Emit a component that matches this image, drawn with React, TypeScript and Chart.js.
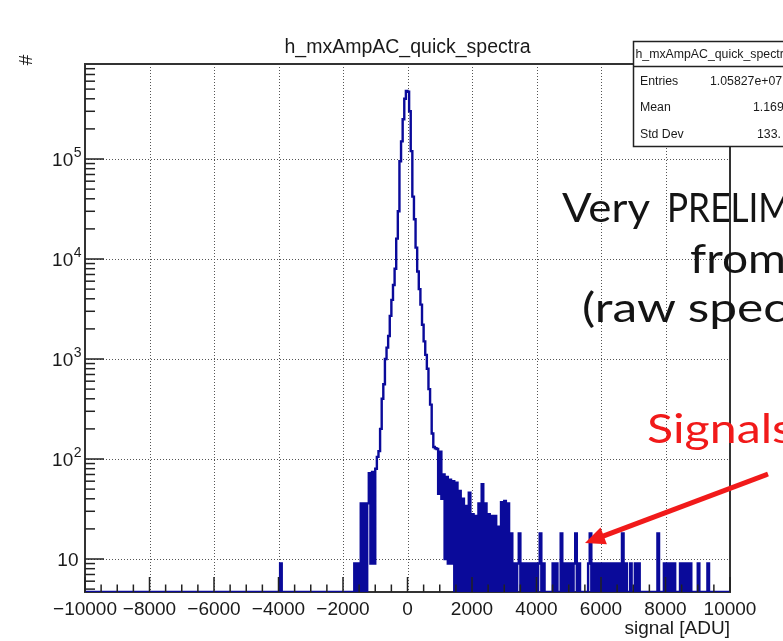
import React, { useEffect, useRef } from "react";
import { Chart, registerables } from "chart.js";

Chart.register(...registerables);

// ---------- data ----------
const X_RANGE = [-10000, 10000];
const Y_RANGE = [4.677, 891250];
const BIN_WIDTH = 50;

// isolated bins far left (left edge, count)
const isolatedBinEdges = [-3950];
const isolatedBinCounts = [9];

// bins from -1700 up to 1250 (left edges, 50 ADU wide)
const coreStartEdge = -1700;
const coreCounts = [
  0, 9, 0, 9, 0, 36, 0, 36, 0, 36,
  72, 9, 74, 9, 80, 105, 120, 200, 400, 560,
  1000, 1300, 1700, 2700, 3900, 5500, 8000, 16000, 30000, 95000,
  150000, 250000, 400000, 480000, 470000, 300000, 120000, 42000, 25000, 13000,
  7500, 5000, 3500, 2200, 1500, 1100, 800, 500, 350, 180,
  132, 128, 126, 45, 118, 40, 70, 10, 66, 9,
];

// bins from 1300 up to 9950
const tailStartEdge = 1300;
const tailCounts = [
  62, 9, 60, 0, 58, 0, 48, 0, 40, 0,
  34, 0, 46, 0, 28, 0, 27, 0, 36, 0,
  56, 0, 36, 0, 28, 0, 27, 0, 27, 0,
  21, 0, 37, 0, 38, 0, 36, 0, 18, 0,
  9, 0, 9, 18, 0, 9, 0, 9, 0, 9,
  0, 9, 0, 9, 0, 9, 18, 0, 9, 0,
  0, 0, 0, 0, 9, 0, 9, 0, 0, 18,
  0, 9, 0, 9, 0, 9, 0, 9, 18, 0,
  9, 0, 0, 0, 0, 0, 9, 18, 0, 9,
  0, 9, 0, 9, 0, 9, 0, 9, 0, 9,
  0, 9, 0, 9, 0, 9, 0, 18, 0, 9,
  0, 0, 9, 0, 0, 9, 0, 9, 0, 0,
  0, 0, 0, 0, 0, 0, 0, 0, 0, 18,
  0, 0, 0, 9, 0, 9, 0, 9, 0, 9,
  0, 0, 0, 9, 0, 9, 0, 9, 0, 9,
  0, 0, 0, 0, 9, 0, 0, 0, 0, 0,
  9, 0, 0, 0, 0, 0, 0, 0, 0, 0,
  0, 0, 0, 0,
];

const xTickValues = [-10000, -8000, -6000, -4000, -2000, 0, 2000, 4000, 6000, 8000, 10000];
const xTickLabels = ["\u221210000", "\u22128000", "\u22126000", "\u22124000", "\u22122000", "0", "2000", "4000", "6000", "8000", "10000"];
const xMinorStep = 500;
const yTickValues = [10, 100, 1000, 10000, 100000];
const yTickExponents = ["", "2", "3", "4", "5"];

const histTitle = "h_mxAmpAC_quick_spectra";
const xAxisTitle = "signal [ADU]";
const yAxisTitle = "#";
const statsLabels = ["Entries", "Mean", "Std Dev"];
const statsValues = ["1.05827e+07", "1.169", "133."];

// ---------- build histogram table ----------
function buildPoints() {
  const nBins = Math.round((X_RANGE[1] - X_RANGE[0]) / BIN_WIDTH);
  const counts: number[] = new Array(nBins).fill(0);
  const put = (edge: number, c: number) => {
    const i = Math.round((edge - X_RANGE[0]) / BIN_WIDTH);
    if (i >= 0 && i < nBins) counts[i] = c;
  };
  isolatedBinEdges.forEach((e, k) => put(e, isolatedBinCounts[k]));
  coreCounts.forEach((c, k) => put(coreStartEdge + k * BIN_WIDTH, c));
  tailCounts.forEach((c, k) => put(tailStartEdge + k * BIN_WIDTH, c));
  const pts = counts.map((c, i) => ({ x: X_RANGE[0] + i * BIN_WIDTH, y: Math.max(c, Y_RANGE[0]) }));
  pts.push({ x: X_RANGE[1], y: Y_RANGE[0] });
  return pts;
}

const LABEL_FONT = '"Liberation Sans", Arial, Helvetica, sans-serif';

const rootPlugin = {
  id: "rootStyle",
  beforeDatasetsDraw(chart: any) {
    const { ctx, chartArea: a, scales } = chart;
    const xs = scales.x;
    const ys = scales.y;
    ctx.save();
    // dotted grid
    ctx.strokeStyle = "#555";
    ctx.lineWidth = 1;
    ctx.setLineDash([1, 2]);
    xTickValues.forEach((v) => {
      if (v <= X_RANGE[0] || v >= X_RANGE[1]) return;
      const px = Math.round(xs.getPixelForValue(v)) + 0.5;
      ctx.beginPath();
      ctx.moveTo(px, a.top);
      ctx.lineTo(px, a.bottom);
      ctx.stroke();
    });
    yTickValues.forEach((v) => {
      const py = Math.round(ys.getPixelForValue(v)) + 0.5;
      ctx.beginPath();
      ctx.moveTo(a.left, py);
      ctx.lineTo(a.right, py);
      ctx.stroke();
    });
    ctx.setLineDash([]);
    // frame
    ctx.strokeStyle = "#333";
    ctx.lineWidth = 2;
    ctx.strokeRect(a.left, a.top, a.right - a.left, a.bottom - a.top);
    ctx.restore();
  },
  afterDatasetsDraw(chart: any) {
    const { ctx, chartArea: a, scales } = chart;
    const xs = scales.x;
    const ys = scales.y;
    ctx.save();
    ctx.strokeStyle = "#222";
    ctx.lineWidth = 1.5;
    // x ticks (inward)
    for (let v = X_RANGE[0]; v <= X_RANGE[1]; v += xMinorStep) {
      const major = xTickValues.includes(v);
      const px = xs.getPixelForValue(v);
      ctx.beginPath();
      ctx.moveTo(px, a.bottom);
      ctx.lineTo(px, a.bottom - (major ? 15 : 7.5));
      ctx.stroke();
    }
    // y ticks (inward)
    for (let d = 1; d <= 1e6; d *= 10) {
      for (let m = 1; m <= 9; m++) {
        const v = m * d;
        if (v < Y_RANGE[0] || v > Y_RANGE[1]) continue;
        const py = ys.getPixelForValue(v);
        ctx.beginPath();
        ctx.moveTo(a.left, py);
        ctx.lineTo(a.left + (m === 1 ? 19 : 10), py);
        ctx.stroke();
      }
    }
    // x labels
    ctx.fillStyle = "#1a1a1a";
    ctx.font = `19px ${LABEL_FONT}`;
    ctx.textAlign = "center";
    ctx.textBaseline = "alphabetic";
    xTickValues.forEach((v, i) => {
      ctx.fillText(xTickLabels[i], xs.getPixelForValue(v), a.bottom + 23);
    });
    // y labels with superscripts
    yTickValues.forEach((v, i) => {
      const py = ys.getPixelForValue(v);
      const exp = yTickExponents[i];
      ctx.textAlign = "right";
      if (!exp) {
        ctx.font = `19px ${LABEL_FONT}`;
        ctx.fillText("10", a.left - 6.5, py + 7);
      } else {
        ctx.font = `14px ${LABEL_FONT}`;
        const w = ctx.measureText(exp).width;
        ctx.fillText(exp, a.left - 3.5, py - 2);
        ctx.font = `19px ${LABEL_FONT}`;
        ctx.fillText("10", a.left - 3.5 - w - 0.5, py + 7);
      }
    });
    // axis titles
    ctx.font = `19px ${LABEL_FONT}`;
    ctx.textAlign = "right";
    ctx.fillText(xAxisTitle, a.right, a.bottom + 42);
    ctx.save();
    ctx.translate(27, 60);
    ctx.rotate(-Math.PI / 2);
    ctx.textAlign = "center";
    ctx.textBaseline = "middle";
    ctx.fillText(yAxisTitle, 0, 0);
    ctx.restore();
    // histogram title
    ctx.textAlign = "center";
    ctx.font = `19.5px ${LABEL_FONT}`;
    ctx.fillText(histTitle, (a.left + a.right) / 2, 53);
    // stats box
    const bx = 633.5, by = 41.5, bw = 180, bh = 105;
    ctx.fillStyle = "#fff";
    ctx.fillRect(bx, by, bw, bh);
    ctx.strokeStyle = "#222";
    ctx.lineWidth = 1.5;
    ctx.strokeRect(bx, by, bw, bh);
    ctx.beginPath();
    ctx.moveTo(bx, 66.5);
    ctx.lineTo(bx + bw, 66.5);
    ctx.stroke();
    ctx.fillStyle = "#1a1a1a";
    ctx.font = `12.3px ${LABEL_FONT}`;
    ctx.textAlign = "left";
    ctx.fillText(histTitle, 635.5, 58);
    const rowY = [84.5, 111, 137.5];
    const valX = [710, 753, 757];
    statsLabels.forEach((lab, i) => {
      ctx.fillText(lab, 640, rowY[i]);
      ctx.fillText(statsValues[i], valX[i], rowY[i]);
    });
    ctx.restore();
  },
};

function Arrow() {
  const tail = { x: 768, y: 474 };
  const tip = { x: 585, y: 543 };
  const dx = tip.x - tail.x;
  const dy = tip.y - tail.y;
  const len = Math.hypot(dx, dy);
  const ux = dx / len, uy = dy / len;
  const headLen = 20, headHalf = 9;
  const bx = tip.x - headLen * ux, by = tip.y - headLen * uy;
  const nx = -uy, ny = ux;
  const pts = `${tip.x},${tip.y} ${bx + headHalf * nx},${by + headHalf * ny} ${bx - headHalf * nx},${by - headHalf * ny}`;
  return (
    <g>
      <line x1={tail.x} y1={tail.y} x2={bx + 2 * ux} y2={by + 2 * uy} stroke="#f11a1a" strokeWidth={5} />
      <polygon points={pts} fill="#f11a1a" />
    </g>
  );
}

export default function App() {
  const canvasRef = useRef<HTMLCanvasElement | null>(null);

  useEffect(() => {
    const canvas = canvasRef.current;
    if (!canvas) return;
    const chart = new Chart(canvas, {
      type: "line",
      data: {
        datasets: [
          {
            data: buildPoints(),
            borderColor: "#0a0a9a",
            borderWidth: 2.4,
            pointRadius: 0,
            stepped: true,
            fill: false,
            tension: 0,
            borderJoinStyle: "miter",
          } as any,
        ],
      },
      options: {
        animation: false,
        responsive: false,
        devicePixelRatio: 1,
        events: [],
        layout: { padding: { left: 85, right: 53, top: 64, bottom: 49 } },
        plugins: {
          legend: { display: false },
          title: { display: false },
          tooltip: { enabled: false },
        },
        scales: {
          x: { type: "linear", min: X_RANGE[0], max: X_RANGE[1], display: false },
          y: { type: "logarithmic", min: Y_RANGE[0], max: Y_RANGE[1], display: false },
        },
      } as any,
      plugins: [rootPlugin],
    });
    return () => chart.destroy();
  }, []);

  const annFont = "Lato, 'Open Sans', sans-serif";
  return (
    <div
      style={{
        position: "fixed",
        left: 0,
        top: 0,
        width: 783,
        height: 641,
        overflow: "hidden",
        background: "#fff",
      }}
    >
      <canvas ref={canvasRef} width={783} height={641} style={{ position: "absolute", left: 0, top: 0 }} />
      <svg width={783} height={641} style={{ position: "absolute", left: 0, top: 0, pointerEvents: "none" }}>
        <g fontFamily={annFont} fontSize={41} fill="#141414">
          <text x={562} y={222} textLength={88} lengthAdjust="spacingAndGlyphs">Very</text>
          <text x={667} y={222} textLength={124} lengthAdjust="spacingAndGlyphs">PRELIM</text>
          <text x={690} y={273} textLength={96} lengthAdjust="spacingAndGlyphs">from</text>
          <text x={582} y={322} textLength={205} lengthAdjust="spacingAndGlyphs">(raw spec</text>
        </g>
        <text x={647} y={443} fontFamily={annFont} fontSize={41} fill="#f11a1a" textLength={146} lengthAdjust="spacingAndGlyphs">
          Signals
        </text>
        <Arrow />
      </svg>
    </div>
  );
}
